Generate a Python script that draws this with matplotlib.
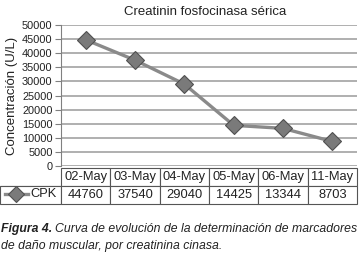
import matplotlib
matplotlib.use("Agg")
import matplotlib.pyplot as plt

dates = ['02-May', '03-May', '04-May', '05-May', '06-May', '11-May']
cpk = [44760, 37540, 29040, 14425, 13344, 8703]
series_name = 'CPK'
yticks = list(range(0, 50001, 5000))

plt.rcParams['font.family'] = ['Liberation Sans', 'DejaVu Sans']
txt = '#222222'

W, H = 360, 258
fig = plt.figure(figsize=(W / 100, H / 100), dpi=100)

# plot area in pixels
x0, x1, ytop, ybot = 61, 357, 25, 166
ax = fig.add_axes([x0 / W, 1 - ybot / H, (x1 - x0) / W, (ybot - ytop) / H])

x = range(len(dates))
ax.plot(x, cpk, color='#8a8a8a', lw=2.4, marker='D', ms=9,
        mfc='#7a7a7a', mec='#505050', mew=0.8, zorder=3, clip_on=False)
ax.set_xlim(-0.5, len(dates) - 0.5)
ax.set_ylim(0, 50000)
ax.set_yticks(yticks)
ax.set_yticklabels([str(v) for v in yticks], fontsize=7.9, color=txt)
ax.set_xticks([])
ax.grid(axis='y', color='#9a9a9a', lw=1.1)
for s in ['top', 'right', 'bottom']:
    ax.spines[s].set_visible(False)
ax.spines['left'].set_color('#808080')
ax.tick_params(axis='y', length=4, color='#808080', pad=2)

ax.set_ylabel('Concentración (U/L)', fontsize=9.5, color=txt, labelpad=3)
ax.set_title('Creatinin fosfocinasa sérica', fontsize=9.5, color=txt,
             x=(205 - x0) / (x1 - x0), pad=7)

# data table under the axis
aw, ah = x1 - x0, ybot - ytop
cells = [[''] + dates, [''] + [str(v) for v in cpk]]
widths = [61] + [49.3] * 6
tab = ax.table(cellText=cells, colWidths=[w / sum(widths) for w in widths],
               cellLoc='center',
               bbox=[-x0 / aw, -(204 - 168) / ah - 2 / ah, 357 / aw, 36 / ah])
tab.auto_set_font_size(False)
for (r, c), cell in tab.get_celld().items():
    cell.set_edgecolor('#555555')
    cell.set_linewidth(0.8)
    cell.get_text().set_fontsize(9.3)
    cell.get_text().set_color(txt)
tab[0, 0].visible_edges = 'B'

# legend key inside the table
ky = -(194 - ybot) / ah
ax.plot([(5 - x0) / aw, (28 - x0) / aw], [ky, ky],
        transform=ax.transAxes, clip_on=False, color='#8a8a8a', lw=2.4,
        zorder=5)
ax.plot([(16 - x0) / aw], [ky], transform=ax.transAxes,
        clip_on=False, marker='D', ms=8, mfc='#7a7a7a', mec='#505050',
        mew=0.8, zorder=6)
ax.text((57 - x0) / aw, ky, series_name, transform=ax.transAxes,
        ha='right', va='center', fontsize=9.3, color=txt)

# caption
y1, y2 = 1 - 229 / H, 1 - 246 / H
t = fig.text(1 / W, y1, 'Figura 4.', fontsize=8.8, style='italic',
             weight='bold', va='center', color=txt)
fig.canvas.draw()
bb = t.get_window_extent()
fig.text(bb.x1 / W + 3 / W, y1,
         'Curva de evolución de la determinación de marcadores',
         fontsize=8.8, style='italic', va='center', color=txt)
fig.text(1 / W, y2, 'de daño muscular, por creatinina cinasa.',
         fontsize=8.8, style='italic', va='center', color=txt)

fig.savefig('out.png', dpi=100)
